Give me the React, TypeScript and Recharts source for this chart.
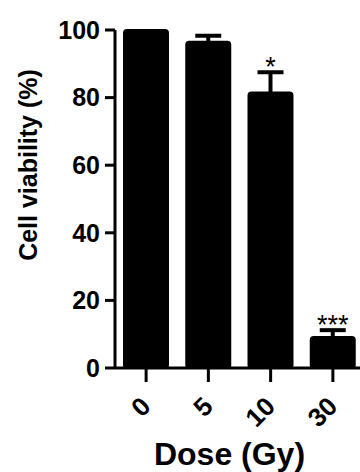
import React from 'react';
import { ComposedChart, Bar, Line, XAxis, YAxis, ErrorBar, LabelList } from 'recharts';

const doses = ['0', '5', '10', '30'];
const viability = [100, 96.5, 81.5, 9.2];
const sem = [null, 1.8, 6, 2];
const stars = ['', '', '*', '***'];
const yTicks = [0, 20, 40, 60, 80, 100];

const data = doses.map((d, i) => ({
  dose: d,
  value: viability[i],
  err: sem[i],
  top: viability[i] + (sem[i] ?? 0),
  stars: stars[i],
}));

const font = '"Liberation Sans", Arial, sans-serif';

const XTick = (props: any) => {
  const { x, payload } = props;
  return (
    <g transform={`translate(${x + 6},${408})`}>
      <text textAnchor="end" transform="rotate(-45)" fontFamily={font} fontWeight="bold" fontSize={26} fill="#000">
        {payload.value}
      </text>
    </g>
  );
};

const YLabel = () => (
  <text
    transform="translate(28,165) rotate(-90)"
    textAnchor="middle"
    dominantBaseline="central"
    fontFamily={font}
    fontWeight="bold"
    fontSize={25}
    fill="#000"
  >
    Cell viability (%)
  </text>
);

const StarLabel = (props: any) => {
  const { x, y, value } = props;
  if (!value) return null;
  return (
    <text x={x} y={y + 4} textAnchor="middle" fontFamily={font} fontSize={27} fill="#000">
      {value}
    </text>
  );
};

export default function App() {
  return (
    <div style={{ position: 'absolute', left: 0, top: 0, width: 360, height: 472, overflow: 'hidden', background: '#fff' }}>
      <ComposedChart width={364} height={472} data={data} margin={{ top: 30, right: 0, bottom: 0, left: 0 }}>
        <XAxis
          dataKey="dose"
          height={104}
          tick={<XTick />}
          tickSize={14}
          axisLine={{ stroke: '#000', strokeWidth: 3 }}
          tickLine={{ stroke: '#000', strokeWidth: 3 }}
          label={{ value: 'Dose (Gy)', position: 'insideBottom', offset: 7, dx: -10, fontFamily: font, fontWeight: 'bold', fontSize: 32, fill: '#000' }}
        />
        <YAxis
          width={115}
          domain={[0, 100]}
          ticks={yTicks}
          interval={0}
          tickSize={10}
          tickMargin={5}
          axisLine={{ stroke: '#000', strokeWidth: 3 }}
          tickLine={{ stroke: '#000', strokeWidth: 3 }}
          tick={{ fontFamily: font, fontWeight: 'bold', fontSize: 25, fill: '#000' }}
          label={<YLabel />}
        />
        <Bar dataKey="value" fill="#000" stroke="#000" strokeWidth={2} barSize={44} radius={3} isAnimationActive={false}>
          <ErrorBar dataKey="err" direction="y" width={13} stroke="#000" strokeWidth={4} isAnimationActive={false} />
        </Bar>
        <Line dataKey="top" stroke="none" dot={false} activeDot={false} isAnimationActive={false}>
          <LabelList dataKey="stars" content={<StarLabel />} />
        </Line>
      </ComposedChart>
    </div>
  );
}
